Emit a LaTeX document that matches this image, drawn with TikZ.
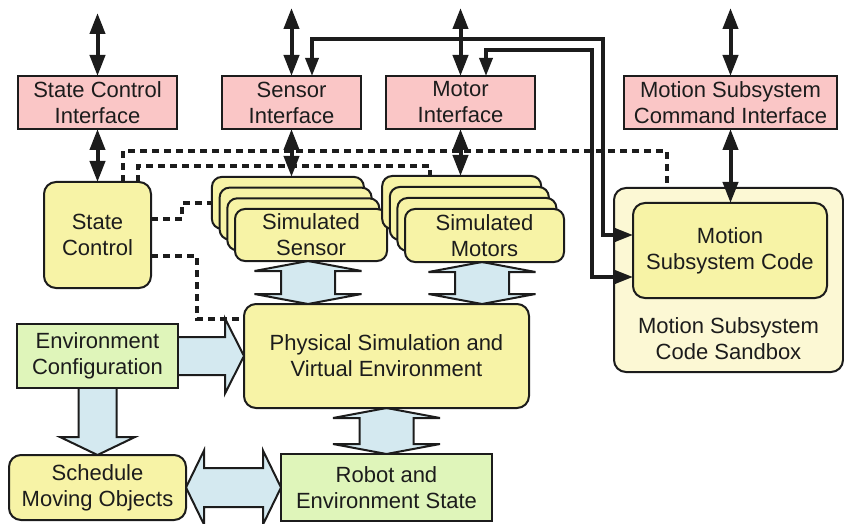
\documentclass[tikz,border=0pt]{standalone}
\usepackage{fontspec}
\setmainfont{Liberation Sans}
\usetikzlibrary{arrows.meta,calc,backgrounds}

\definecolor{ink}{RGB}{28,28,28}
\definecolor{ifpink}{RGB}{250,198,198}
\definecolor{procyellow}{RGB}{247,243,166}
\definecolor{datagreen}{RGB}{223,245,186}
\definecolor{flowblue}{RGB}{212,233,240}
\definecolor{sandboxfill}{RGB}{252,248,212}

\tikzset{
  box/.style={draw=ink, line width=2pt, inner sep=0pt, outer sep=0pt,
    align=center, text=ink, font=\fontsize{22}{26}\selectfont},
  iface/.style={box, fill=ifpink, minimum height=53pt},
  proc/.style={box, fill=procyellow, rounded corners=12pt},
  datab/.style={box, fill=datagreen},
  simbox/.style={box, fill=procyellow, rounded corners=10pt},
  blockarrow/.style={draw=ink, line width=2pt, fill=flowblue, line join=miter},
  dblarr/.style={draw=ink, line width=4pt,
    {Triangle[length=21pt,width=15pt]}-{Triangle[length=21pt,width=15pt]}},
  route/.style={draw=ink, line width=3.5pt,
    {Triangle[length=18pt,width=13pt]}-{Triangle[length=18pt,width=13pt]}},
  dashln/.style={draw=ink, line width=3.5pt, dash pattern=on 7pt off 5pt}
}

% vertical two-way block arrow: x position, upper anchor, lower anchor
\newcommand\vtwoway[3]{%
  \path (#1,0 |- #2) coordinate (bt) (#1,0 |- #3) coordinate (bb);
  \draw[blockarrow] (bt) -- ++(53.5,10) -- ++(-26.5,0) -- ($(bb)+(27,-10)$)
    -- ++(26.5,0) -- (bb) -- ++(-53.5,-10) -- ++(26.5,0)
    -- ($(bt)+(-27,10)$) -- ++(-26.5,0) -- cycle;}

\begin{document}
\begin{tikzpicture}[x=1pt,y=-1pt]
\useasboundingbox (0,0) rectangle (844,524);

% interfaces
\node[iface, minimum width=159pt] (sci) at (97.5,102.5) {State Control\\Interface};
\node[iface, minimum width=139pt] (si) at (291.5,102.5) {Sensor\\Interface};
\node[iface, minimum width=149pt] (mi) at (460.5,102.5) {Motor\\Interface};
\node[iface, minimum width=213pt] (mci) at (730.5,102.5) {Motion Subsystem\\Command Interface};

% state control
\node[proc, minimum width=107pt, minimum height=106pt] (sc) at (97.5,235) {State\\Control};

% stacked simulated sensors
\foreach \k in {1,2,3}
  \node[simbox, minimum width=152pt, minimum height=52pt] (sens\k)
    at ({311-7.7*(4-\k)},{235-10.7*(4-\k)}) {};
\node[simbox, minimum width=152pt, minimum height=52pt] (sens4) at (311,235) {Simulated\\Sensor};

% stacked simulated motors
\foreach \k in {1,2,3}
  \node[simbox, minimum width=159pt, minimum height=53pt] (mot\k)
    at ({484.5-7.6*(4-\k)},{235.5-11*(4-\k)}) {};
\node[simbox, minimum width=159pt, minimum height=53pt] (mot4) at (484.5,235.5) {Simulated\\Motors};

% simulation core and data
\node[proc, minimum width=285pt, minimum height=104pt] (phys) at (386.5,356) {Physical Simulation and\\Virtual Environment};
\node[datab, minimum width=211pt, minimum height=67pt] (robot) at (386.5,487.5) {Robot and\\Environment State};
\node[datab, minimum width=161pt, minimum height=64pt] (env) at (97.5,356) {Environment\\Configuration};
\node[proc, minimum width=177pt, minimum height=65pt] (sched) at (97.5,487.5) {Schedule\\Moving Objects};

% motion subsystem sandbox
\node[proc, fill=sandboxfill, minimum width=229pt, minimum height=184pt] (sandbox) at (728.5,280) {};
\node[proc, minimum width=194pt, minimum height=95pt] (code) at (730,250.5) {Motion\\Subsystem Code};
\node[text=ink, align=center, font=\fontsize{22}{26}\selectfont] (sblabel) at (728.5,339) {Motion Subsystem\\Code Sandbox};

% block arrows for data flow
\begin{pgfonlayer}{background}
  \vtwoway{308}{sens4.south}{phys.north}
  \vtwoway{482}{mot4.south}{phys.north}
  \vtwoway{386.5}{phys.south}{robot.north}
  \path (phys.west |- env.east) coordinate (envtip);
  \draw[blockarrow] ($(env.east)+(0,-19)$) -- ($(envtip)+(-19,-19)$)
    -- ($(envtip)+(-19,-37.5)$) -- (envtip) -- ($(envtip)+(-19,37.5)$)
    -- ($(envtip)+(-19,19)$) -- ($(env.east)+(0,19)$);
  \draw[blockarrow] ($(env.south)+(-19,0)$) -- ($(sched.north)+(-19,-18)$)
    -- ($(sched.north)+(-37.5,-18)$) -- (sched.north) -- ($(sched.north)+(37.5,-18)$)
    -- ($(sched.north)+(19,-18)$) -- ($(env.south)+(19,0)$);
  \draw[blockarrow] (sched.east) -- ++(18,-37) -- ++(0,17.5)
    -- ($(robot.west)+(-18,-19.5)$) -- ++(0,-17.5) -- (robot.west)
    -- ++(-18,37) -- ++(0,-17.5) -- ($(sched.east)+(18,19.5)$) -- ++(0,17.5) -- cycle;
\end{pgfonlayer}

% external connections
\coordinate (sciext) at (97.5,13);
\coordinate (siext) at (291.5,8);
\coordinate (miext) at (460.5,8);
\coordinate (mciext) at (730.5,8);
\draw[dblarr] (sciext) -- (sci.north);
\draw[dblarr] (siext) -- (si.north);
\draw[dblarr] (miext) -- (mi.north);
\draw[dblarr] (mciext) -- (mci.north);

% interface to component links
\draw[dblarr] (sci.south) -- (sc.north);
\draw[dblarr] (si.south) -- (si.south |- sens1.north);
\draw[dblarr] (mi.south) -- (mi.south |- mot1.north);
\draw[dblarr] (mci.south) -- (mci.south |- code.north);

% interfaces routed to the motion subsystem code
\draw[route] (312,0 |- si.north) |- (603,39) |- (code.west |- 0,235);
\draw[route] (486,0 |- mi.north) |- (592,50) |- (code.west |- 0,277);

% state control links
\draw[dashln] (123,0 |- sc.north) |- (667,151) -- (667,0 |- sandbox.north);
\draw[dashln] (138,0 |- sc.north) |- (430,166) -- (430,0 |- mot1.north);
\draw[dashln] (sc.east |- 0,219) -- (182,219) |- (sens1.west);
\draw[dashln] (sc.east |- 0,256) -| (197,319) -- (phys.west |- 0,319);

\end{tikzpicture}
\end{document}
